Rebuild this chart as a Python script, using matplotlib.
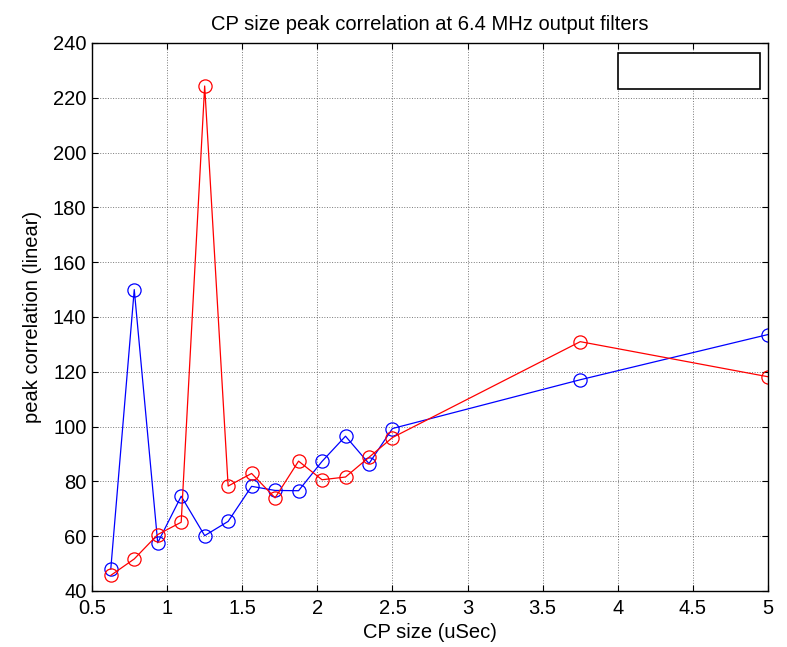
import matplotlib
matplotlib.use("Agg")
import matplotlib.pyplot as plt
from matplotlib.patches import Rectangle

plt.rcParams['font.family'] = ['Liberation Sans', 'DejaVu Sans']

cp_size = [0.625, 0.78125, 0.9375, 1.09375, 1.25, 1.40625, 1.5625, 1.71875,
           1.875, 2.03125, 2.1875, 2.34375, 2.5, 3.75, 5.0]
blue_vals = [48.0, 150.0, 57.6, 74.6, 60.2, 65.4, 78.2, 76.7,
             76.6, 87.3, 96.5, 86.5, 99.3, 117.1, 133.6]
red_vals = [45.7, 51.7, 60.6, 65.1, 224.3, 78.3, 82.9, 74.0,
            87.4, 80.6, 81.6, 88.8, 96.0, 131.0, 118.2]

xticks = [0.5, 1, 1.5, 2, 2.5, 3, 3.5, 4, 4.5, 5]
yticks = [40, 60, 80, 100, 120, 140, 160, 180, 200, 220, 240]

FS = 14.5

fig = plt.figure(figsize=(7.87, 6.47), dpi=100)
ax = fig.add_axes([92/787, 1-591/647, (768-92)/787, (591-43)/647])

ax.plot(cp_size, blue_vals, '-o', color='#0000ff', mfc='none', mec='#0000ff',
        markersize=9.5, linewidth=0.9, markeredgewidth=0.9)
ax.plot(cp_size, red_vals, '-o', color='#ff0000', mfc='none', mec='#ff0000',
        markersize=9.5, linewidth=0.9, markeredgewidth=0.9)

ax.set_xlim(0.5, 5)
ax.set_ylim(40, 240)
ax.set_xticks(xticks)
ax.set_xticklabels([f"{t:g}" for t in xticks])
ax.set_yticks(yticks)
ax.grid(True, linestyle=':', color='#404040', linewidth=0.7, alpha=0.7)
ax.tick_params(direction='in', top=True, right=True, labelsize=FS, length=4)
ax.tick_params(axis='x', pad=6)
ax.tick_params(axis='y', pad=4)
for s in ax.spines.values():
    s.set_linewidth(1.0)

ax.set_title("CP size peak correlation at 6.4 MHz output filters", fontsize=FS, pad=9)
ax.set_xlabel("CP size (uSec)", fontsize=FS, labelpad=3)
ax.set_ylabel("peak correlation (linear)", fontsize=FS, labelpad=8)

# empty legend box
x0 = (618-92)/(768-92); x1 = (760-92)/(768-92)
y0 = (591-89)/(591-43); y1 = (591-53)/(591-43)
ax.add_patch(Rectangle((x0, y0), x1-x0, y1-y0, transform=ax.transAxes,
                       facecolor='white', edgecolor='k', linewidth=1.2, zorder=5))

fig.savefig("out.png", dpi=100)
